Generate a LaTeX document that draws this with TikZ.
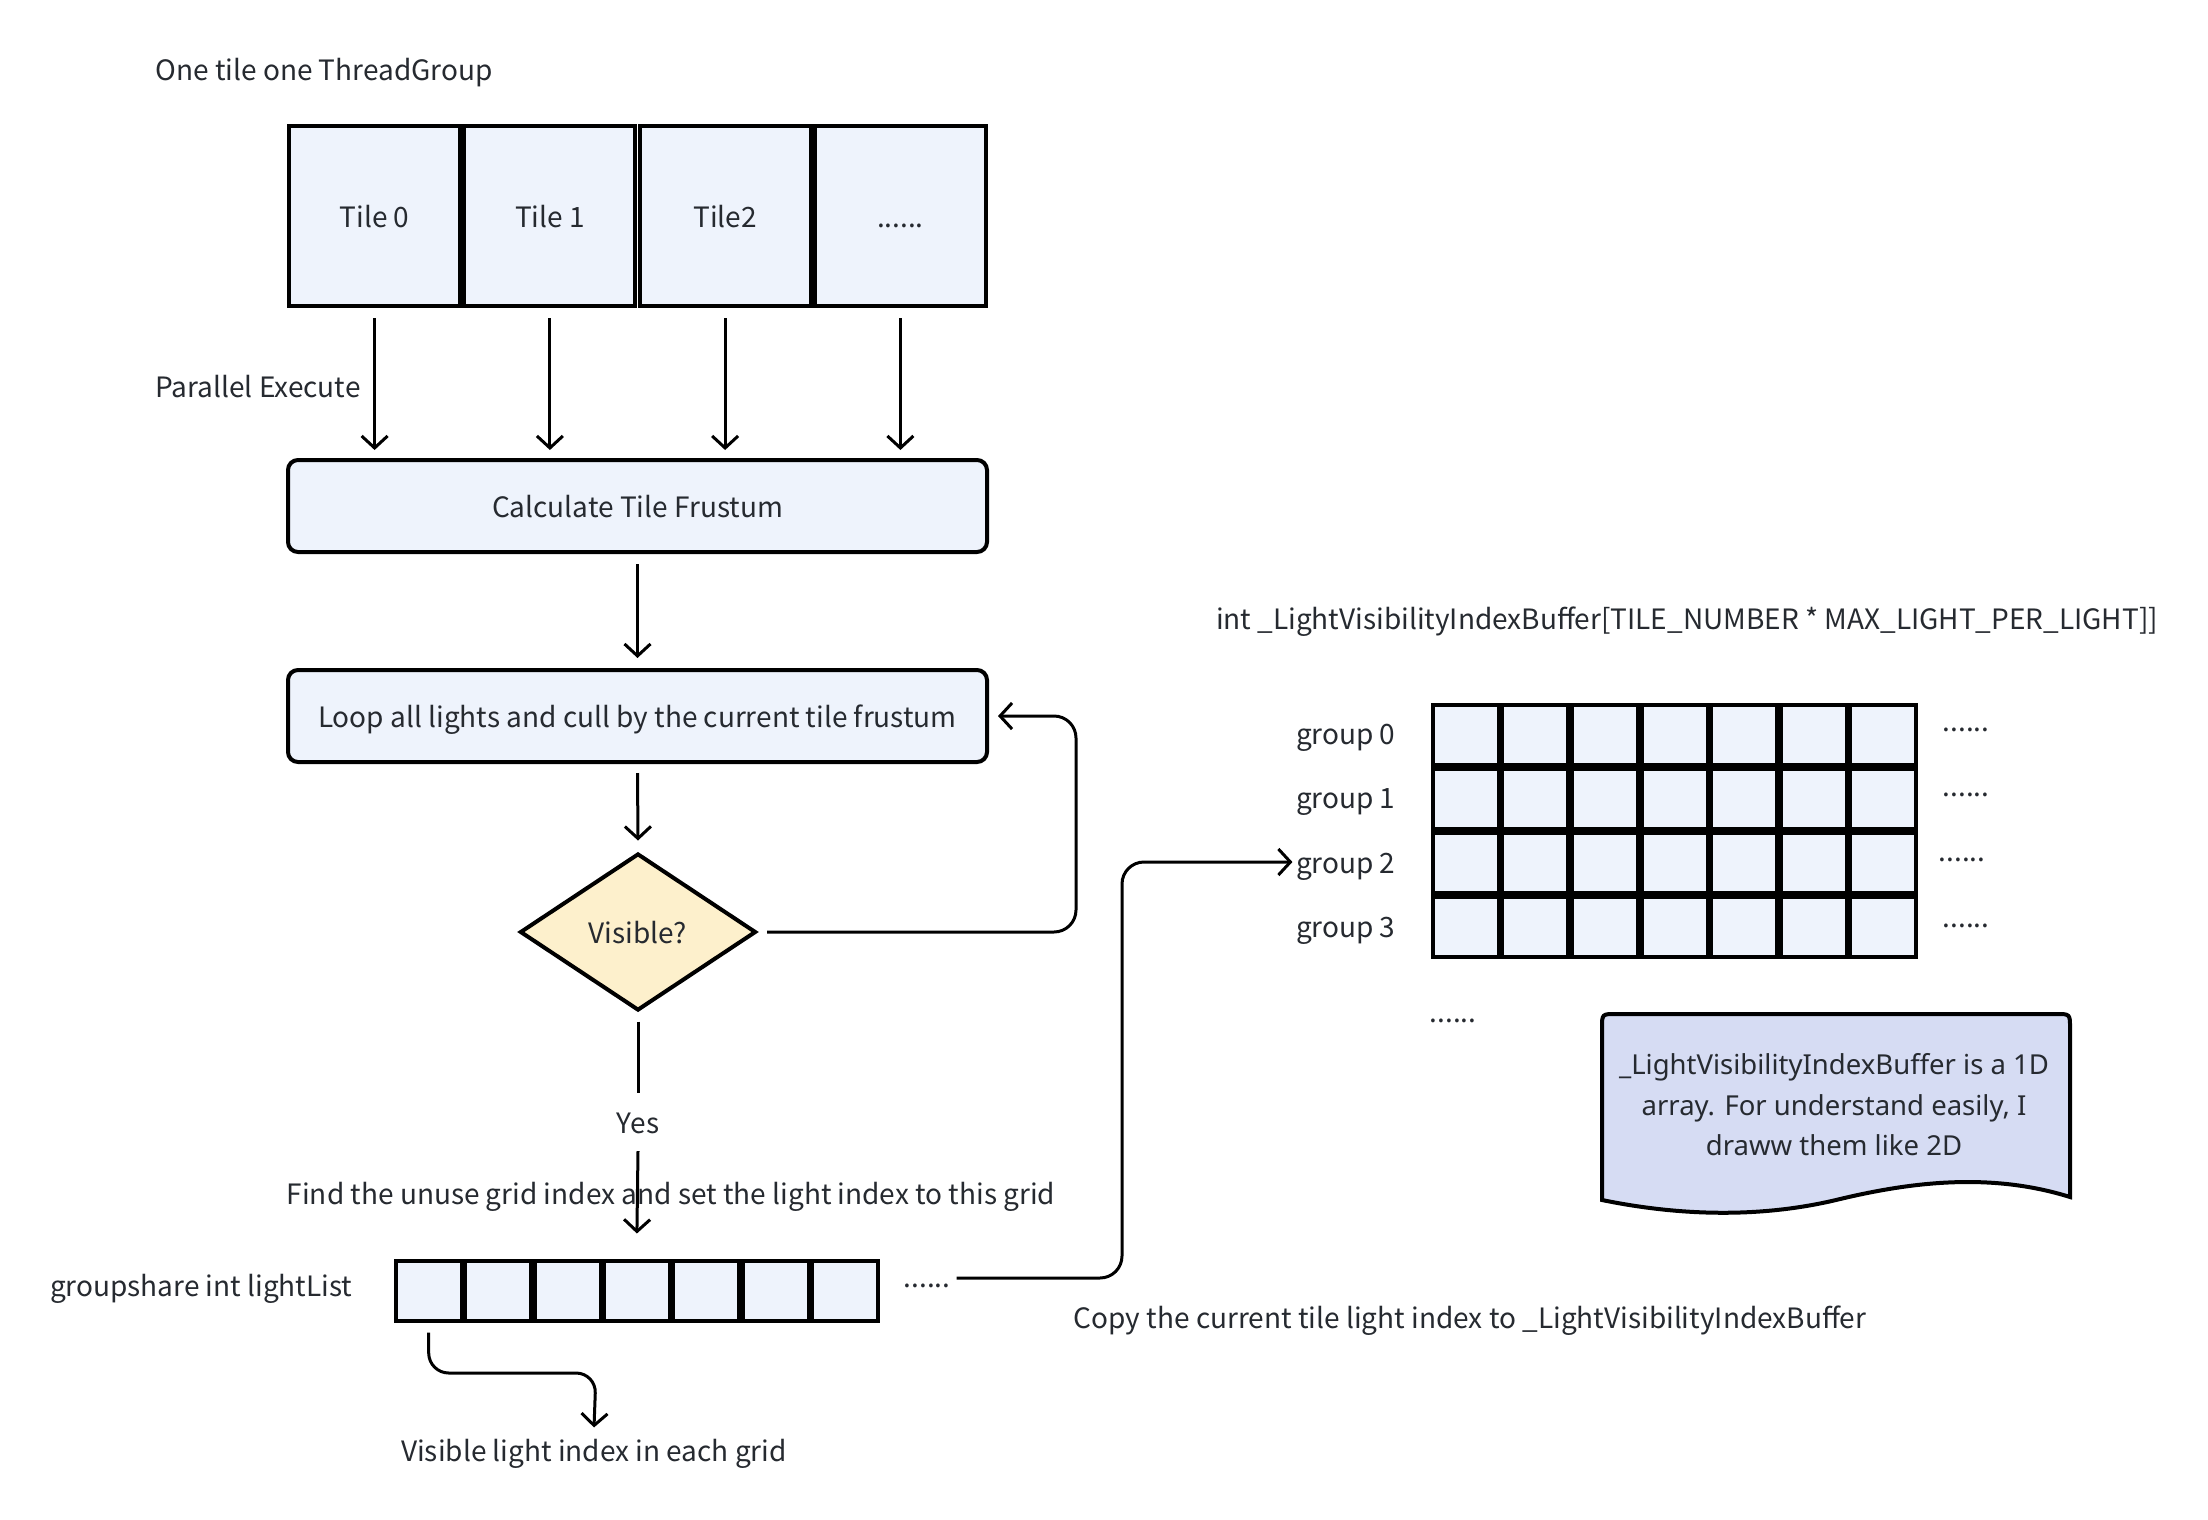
\documentclass[tikz,border=0pt]{standalone}
\usepackage{fontspec}
\setmainfont{Noto Sans CJK SC}
\newfontfamily\notefont{Noto Sans}
\usetikzlibrary{arrows.meta,shapes.geometric,calc}

\definecolor{cellfill}{HTML}{EEF3FC}
\definecolor{decfill}{HTML}{FDF0CC}
\definecolor{notefill}{HTML}{D6DCF3}
\definecolor{ink}{HTML}{262A30}

\tikzset{
  every node/.style={font=\fontsize{28}{34}\selectfont, text=ink, text height=26, text depth=4},
  box/.style={draw=black, line width=4, fill=cellfill},
  tilebox/.style={box, minimum width=171, minimum height=180, inner sep=0},
  procbox/.style={box, rounded corners=10, minimum width=699, minimum height=92},
  cellbox/.style={box, minimum width=66, minimum height=60, inner sep=0},
  decision/.style={diamond, draw=black, line width=4, fill=decfill, aspect=1.5,
    minimum width=236, minimum height=157, inner sep=0},
  notebox/.style={draw=black, line width=4, fill=notefill},
  link/.style={line width=3, draw=black},
  arr/.style={link, -{Straight Barb[length=12,width=26]}},
  dots/.style={text height=0, text depth=0, inner sep=0},
}

\begin{document}
\begin{tikzpicture}[x=1pt, y=-1pt]
  \useasboundingbox[fill=white] (0,0) rectangle (2208,1520);

  % thread group tiles
  \node[anchor=west] (title) at (152,70) {One tile one ThreadGroup};
  \node[tilebox] (t0) at (374.6,216) {Tile 0};
  \node[tilebox] (t1) at (549.9,216) {Tile 1};
  \node[tilebox] (t2) at (725.1,216) {Tile2};
  \node[tilebox] (t3) at (900.4,216) {......};

  \node[anchor=west] (par) at (152,386) {Parallel Execute};

  % main flow
  \node[procbox] (calc) at (637.5,506) {Calculate Tile Frustum};
  \node[procbox] (loop) at (637.5,716) {Loop all lights and cull by the current tile frustum};
  \node[decision] (vis) at (638,932) {Visible?};

  \foreach \t in {t0,t1,t2,t3}
    \draw[arr] ([yshift=-10]\t.south) -- ([yshift=8]\t.south |- calc.north);
  \draw[arr] ([yshift=-10]calc.south) -- ([yshift=10]loop.north);
  \draw[arr] ([yshift=-9]loop.south) -- ([yshift=11]vis.north);
  \draw[arr, rounded corners=22] ([xshift=9]vis.east) -- ++(309,0) |- ([xshift=9]loop.east);

  % Yes branch into the group shared list
  \node[minimum height=58, inner sep=0] (yes) at (638,1122) {Yes};
  \draw[link] ([yshift=-9]vis.south) -- (yes.north);

  \foreach \i in {0,...,6}
    \node[cellbox] (ll\i) at ({428.7+69.4*\i},1290.5) {};
  \node[anchor=east] (gslbl) at (356,1285) {groupshare int lightList};
  \node[dots, anchor=base] (lldots) at (927,1287) {......};

  \node (find) at (671,1193) {Find the unuse grid index and set the light index to this grid};
  \draw[arr] (yes.south) -- ([yshift=25]ll3.north);

  \node (vislbl) at (594,1450) {Visible light index in each grid};
  \coordinate (turn) at (596,1373);
  \draw[arr, rounded corners=20] ([yshift=-10]ll0.south) |- (turn) -- ([yshift=4]vislbl.north);

  % visibility index buffer
  \node (buftitle) at (1687,618) {int \_LightVisibilityIndexBuffer[TILE\_NUMBER * MAX\_LIGHT\_PER\_LIGHT]]};
  \foreach \r in {0,...,3}{
    \foreach \c in {0,...,6}
      \node[cellbox] (g\r\c) at ({1465.8+69.6*\c},{735+64*\r}) {};
    \node[anchor=east] (grp\r) at (1399,{733+64.5*\r}) {group \r};
  }
  \node[dots, anchor=base] (gd0) at (1966,731) {......};
  \node[dots, anchor=base] (gd1) at (1966,796) {......};
  \node[dots, anchor=base] (gd2) at (1962,861) {......};
  \node[dots, anchor=base] (gd3) at (1966,927) {......};
  \node[dots, anchor=base] (gdown) at (1453,1022) {......};

  \coordinate (bend) at (1122,1278);
  \draw[arr, rounded corners=22] ([xshift=6]lldots.east |- bend) -- (bend) |- (grp2.west);
  \node (copy) at (1470,1317) {Copy the current tile light index to \_LightVisibilityIndexBuffer};

  % note
  \path[notebox] (1602,1200) -- (1602,1028) .. controls (1602,1014) .. (1616,1014)
    -- (2056,1014) .. controls (2070,1014) .. (2070,1028) -- (2070,1197)
    .. controls (1990,1172) and (1910,1182) .. (1836,1200)
    .. controls (1760,1218) and (1680,1216) .. (1602,1200) -- cycle;
  \node[align=center, text height=, text depth=, font=\notefont\fontsize{27.5}{40.5}\selectfont] (note) at (1834,1105)
    {\_LightVisibilityIndexBuffer is a 1D\\array. For understand easily, I\\draww them like 2D};
\end{tikzpicture}
\end{document}
